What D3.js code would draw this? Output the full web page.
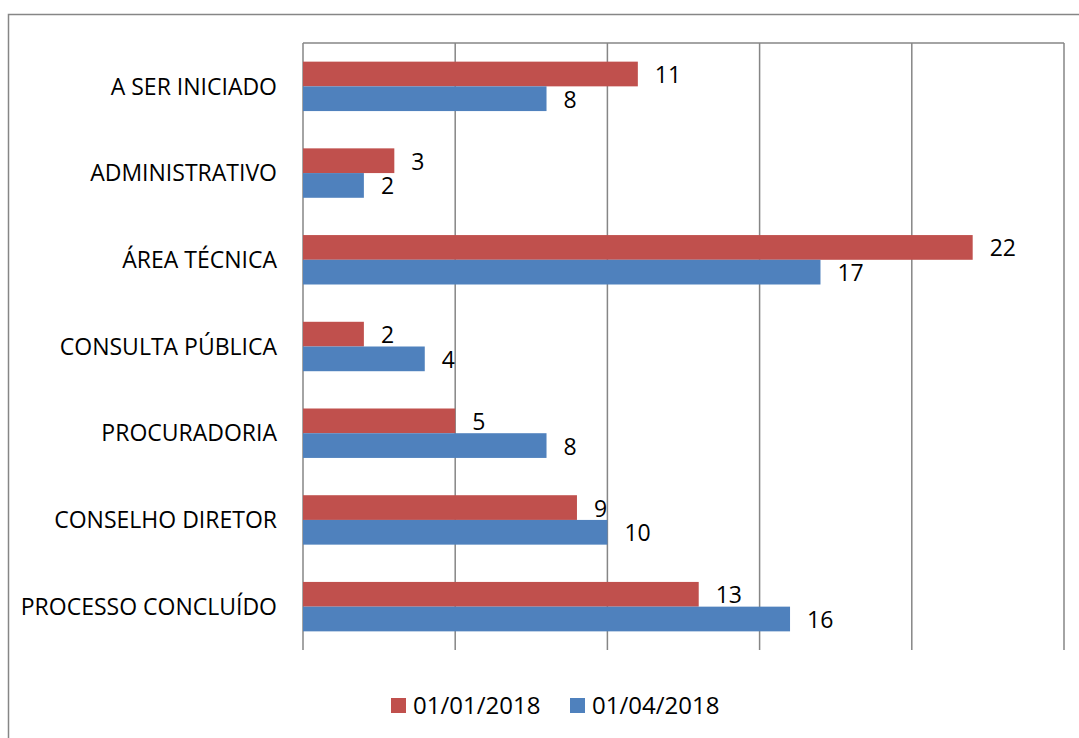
<!DOCTYPE html>
<html>
<head>
<meta charset="utf-8">
<script src="https://cdn.jsdelivr.net/npm/d3@7"></script>
<style>
  body { margin: 0; background: #fff; }
  svg text { font-family: "Open Sans", "Noto Sans", sans-serif; fill: #000; }
</style>
</head>
<body>
<div class="chart-container"></div>
<script>
const categories = [
  "A SER INICIADO",
  "ADMINISTRATIVO",
  "ÁREA TÉCNICA",
  "CONSULTA PÚBLICA",
  "PROCURADORIA",
  "CONSELHO DIRETOR",
  "PROCESSO CONCLUÍDO",
];
const seriesNames = ["01/01/2018", "01/04/2018"];
const jan = [11, 3, 22, 2, 5, 9, 13];
const abr = [8, 2, 17, 4, 8, 10, 16];
const xTicks = [0, 5, 10, 15, 20, 25];
const colors = ["#C0504D", "#4F81BD"];

const W = 1079, H = 738;
const margin = { left: 303, top: 43, right: 15, bottom: 88 };
const width = W - margin.left - margin.right;
const height = H - margin.top - margin.bottom;

const svg = d3.select(".chart-container")
  .append("svg")
  .attr("width", W)
  .attr("height", H);

// outer chart border (only left/top/right visible in the crop)
svg.append("path")
  .attr("d", "M8.5," + H + "V14.5H" + W)
  .attr("fill", "none")
  .attr("stroke", "#868686")
  .attr("stroke-width", 1.5);

const g = svg.append("g")
  .attr("transform", "translate(" + margin.left + "," + margin.top + ")");

const x = d3.scaleLinear().domain([0, 25]).range([0, width]);
const y = d3.scaleBand().domain(categories).range([0, height]).paddingInner(0.43).paddingOuter(0.215);
const y1 = d3.scaleBand().domain(seriesNames).range([0, y.bandwidth()]);

// gridlines
g.selectAll(".grid")
  .data(xTicks)
  .enter()
  .append("line")
  .attr("x1", d => x(d)).attr("x2", d => x(d))
  .attr("y1", 0).attr("y2", height)
  .attr("stroke", "#868686")
  .attr("stroke-width", 1.5);

g.append("line")
  .attr("x1", x(0)).attr("x2", x(25))
  .attr("y1", 0).attr("y2", 0)
  .attr("stroke", "#868686")
  .attr("stroke-width", 1.5);

// category labels
g.append("g")
  .call(d3.axisLeft(y).tickSize(0).tickPadding(26))
  .call(ax => ax.select(".domain").remove())
  .selectAll("text")
  .style("font-size", "23px")
  .style("font-family", "'Open Sans', 'Noto Sans', sans-serif")
  .attr("dy", "0.36em");

const rows = categories.map((c, i) => ({ cat: c, values: [jan[i], abr[i]] }));

const grp = g.selectAll(".cat")
  .data(rows)
  .enter()
  .append("g")
  .attr("transform", d => "translate(0," + y(d.cat) + ")");

grp.selectAll("rect")
  .data(d => d.values.map((v, k) => ({ v, s: seriesNames[k], k })))
  .enter()
  .append("rect")
  .attr("x", x(0))
  .attr("y", d => y1(d.s))
  .attr("width", d => x(d.v) - x(0))
  .attr("height", y1.bandwidth())
  .attr("fill", d => colors[d.k]);

grp.selectAll(".lbl")
  .data(d => d.values.map((v, k) => ({ v, s: seriesNames[k], k })))
  .enter()
  .append("text")
  .attr("x", d => x(d.v) + 17)
  .attr("y", d => y1(d.s) + y1.bandwidth() / 2 + 9)
  .style("font-size", "23px")
  .text(d => d.v);

// legend
const legend = svg.append("g").attr("transform", "translate(391,698)");
const legX = [0, 179];
seriesNames.forEach((s, k) => {
  legend.append("rect")
    .attr("x", legX[k]).attr("y", 0)
    .attr("width", 15).attr("height", 15)
    .attr("fill", colors[k]);
  legend.append("text")
    .attr("x", legX[k] + 22).attr("y", 16)
    .style("font-size", "24px")
    .text(s);
});
</script>
</body>
</html>
